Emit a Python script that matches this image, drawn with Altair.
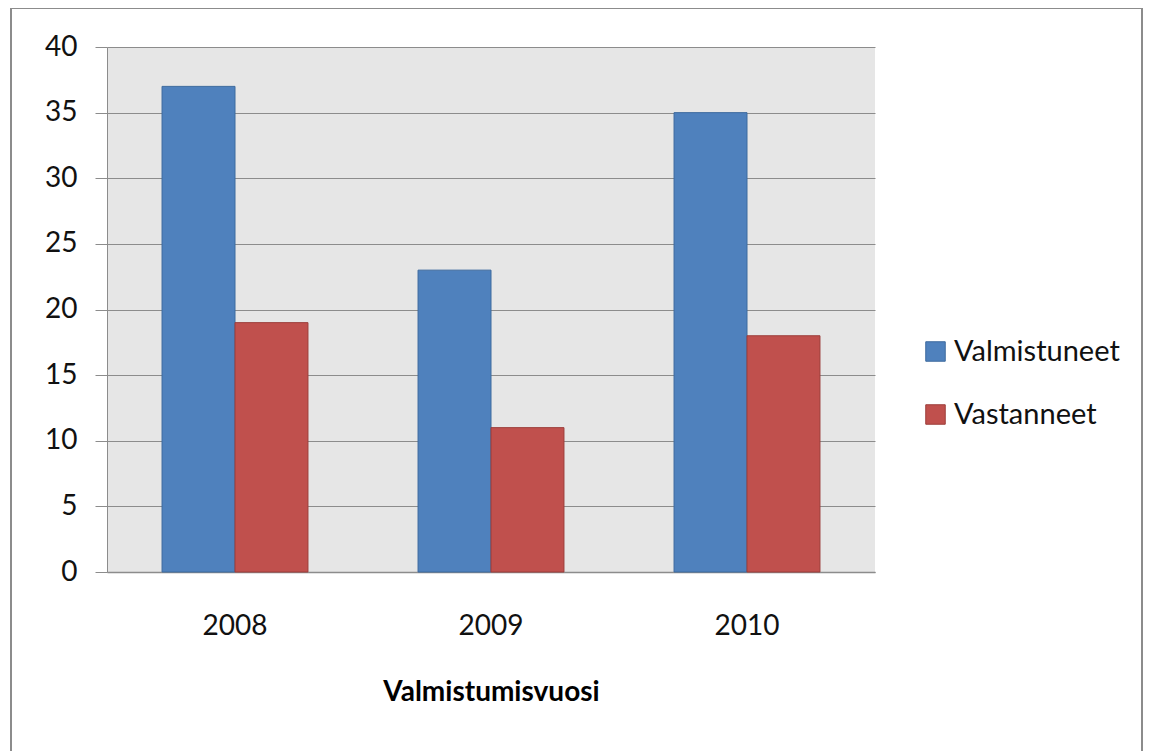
import altair as alt
import pandas as pd

years = ["2008", "2009", "2010"]
series = ["Valmistuneet", "Vastanneet"]
valmistuneet = [37, 23, 35]
vastanneet = [19, 11, 18]
y_ticks = [0, 5, 10, 15, 20, 25, 30, 35, 40]

rows = []
for i, yr in enumerate(years):
    rows.append({"vuosi": yr, "sarja": series[0], "arvo": valmistuneet[i]})
    rows.append({"vuosi": yr, "sarja": series[1], "arvo": vastanneet[i]})
df = pd.DataFrame(rows)

FONT = "Lato"

bars = alt.Chart(df).mark_bar(strokeWidth=1).encode(
    x=alt.X("vuosi:N", sort=years,
            scale=alt.Scale(paddingInner=0.43, paddingOuter=0.215),
            axis=alt.Axis(title="Valmistumisvuosi", labelAngle=0, ticks=False,
                          grid=False,
                          domainColor="#8c8c8c", domainWidth=1.5,
                          labelFont=FONT, labelFontSize=28, labelColor="#111111",
                          labelPadding=40, titleFont=FONT, titleFontSize=28,
                          titleFontWeight="bold", titleColor="#000000",
                          titlePadding=38)),
    xOffset=alt.XOffset("sarja:N", sort=series,
                        scale=alt.Scale(paddingInner=0, paddingOuter=0)),
    y=alt.Y("arvo:Q", scale=alt.Scale(domain=[0, 40], nice=False),
            axis=alt.Axis(title=None, values=y_ticks, tickSize=12, grid=True,
                          tickColor="#8c8c8c", domainColor="#8c8c8c",
                          gridColor="#8c8c8c", gridWidth=1,
                          labelFont=FONT, labelFontSize=28, labelColor="#111111",
                          labelPadding=18)),
    color=alt.Color("sarja:N", sort=series,
                    scale=alt.Scale(domain=series, range=["#4F81BD", "#C0504D"]),
                    legend=alt.Legend(title=None, orient="none", legendX=814,
                                      legendY=290, symbolType="square",
                                      symbolSize=380, symbolStrokeWidth=1,
                                      labelFont=FONT, labelFontSize=29,
                                      labelLimit=400,
                                      labelColor="#111111", rowPadding=33,
                                      labelOffset=4)),
    stroke=alt.Stroke("sarja:N", sort=series,
                      scale=alt.Scale(domain=series, range=["#3d6a9e", "#9c3d3a"]),
                      legend=None),
)

border = alt.Chart(alt.Data(values=[{"a": 1}])).mark_rect(
    fillOpacity=0, stroke="#8c8c8c", strokeWidth=2
).encode(
    x=alt.value(-96), x2=alt.value(1035), y=alt.value(-39), y2=alt.value(720)
)

chart = alt.layer(border, bars).properties(
    width=768, height=525,
    autosize=alt.AutoSizeParams(type="none"),
    padding={"left": 99, "top": 39, "right": 269, "bottom": 179},
    background="#ffffff",
).configure_view(fill="#e6e6e6", stroke=None)

chart.save("out.html", embed_options={"renderer": "svg", "actions": False})
